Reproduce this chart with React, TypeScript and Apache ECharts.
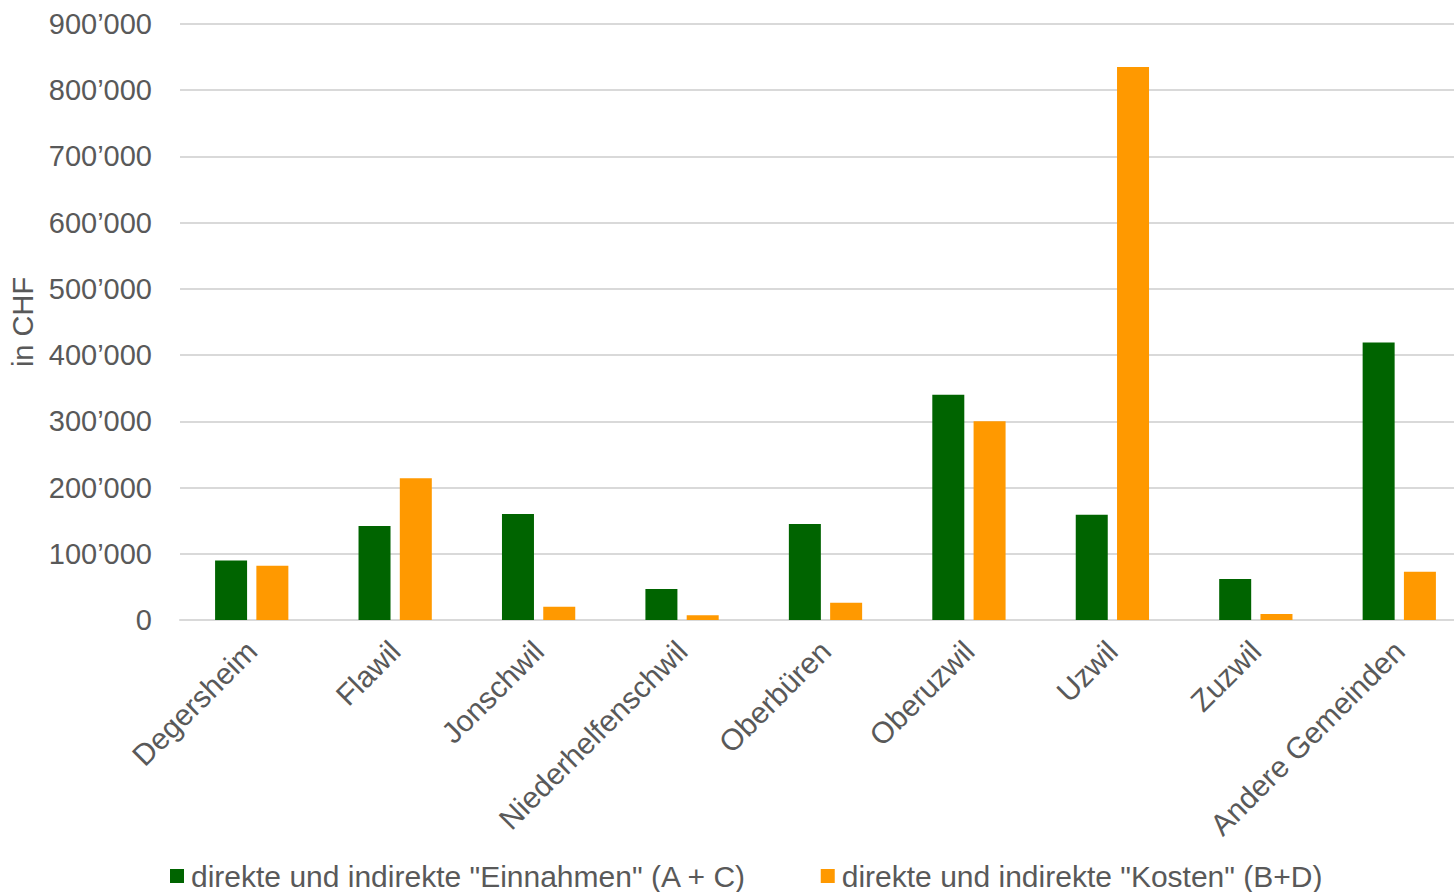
import React, { useEffect, useRef } from "react";
import * as echarts from "echarts";

const categories = [
  "Degersheim",
  "Flawil",
  "Jonschwil",
  "Niederhelfenschwil",
  "Oberbüren",
  "Oberuzwil",
  "Uzwil",
  "Zuzwil",
  "Andere Gemeinden",
];
const einnahmen = [90000, 142000, 160000, 47000, 145000, 340000, 159000, 62000, 419000];
const kosten = [82000, 214000, 20000, 7000, 26000, 300000, 835000, 9000, 73000];
const seriesNames = [
  'direkte und indirekte "Einnahmen" (A + C)',
  'direkte und indirekte "Kosten" (B+D)',
];
const yMin = 0;
const yMax = 900000;
const yStep = 100000;

const FONT = "'Liberation Sans', Arial, sans-serif";
const TXT = "#595959";

function fmt(v: number): string {
  return String(Math.round(v)).replace(/\B(?=(\d{3})+(?!\d))/g, "\u2019");
}

export default function App() {
  const ref = useRef<HTMLDivElement>(null);
  useEffect(() => {
    if (!ref.current) return;
    const chart = echarts.init(ref.current, null, { renderer: "svg" });
    chart.setOption({
      animation: false,
      backgroundColor: "#ffffff",
      textStyle: { fontFamily: FONT },
      grid: {
        left: 180,
        right: -17,
        top: 24,
        bottom: 272,
        containLabel: false,
        outerBoundsMode: "none",
      },
      legend: {
        left: 170,
        top: 861,
        padding: 0,
        itemWidth: 14,
        itemHeight: 14,
        itemGap: 74,
        icon: "rect",
        textStyle: {
          color: TXT,
          fontSize: 30,
          lineHeight: 28,
          fontFamily: FONT,
          padding: [0, 0, 0, 2],
        },
        data: seriesNames,
      },
      xAxis: {
        type: "category",
        data: categories,
        axisLine: { show: true, lineStyle: { color: "#d9d9d9", width: 2 } },
        axisTick: { show: false },
        axisLabel: {
          interval: 0,
          rotate: 45,
          margin: 26,
          color: TXT,
          fontSize: 30,
          fontFamily: FONT,
        },
      },
      yAxis: {
        type: "value",
        min: yMin,
        max: yMax,
        interval: yStep,
        name: "in CHF",
        nameLocation: "middle",
        nameRotate: 90,
        nameGap: 142,
        nameTextStyle: { color: TXT, fontSize: 29, fontFamily: FONT },
        axisLine: { show: false },
        axisTick: { show: false },
        splitLine: { lineStyle: { color: "#d9d9d9", width: 2 } },
        axisLabel: {
          color: TXT,
          fontSize: 29,
          fontFamily: FONT,
          margin: 28,
          formatter: (v: number) => fmt(v),
        },
      },
      series: [
        {
          name: seriesNames[0],
          type: "bar",
          data: einnahmen,
          barWidth: 32,
          barGap: "29%",
          itemStyle: { color: "#006400" },
        },
        {
          name: seriesNames[1],
          type: "bar",
          data: kosten,
          barWidth: 32,
          itemStyle: { color: "#ff9900" },
        },
      ],
    });
    return () => chart.dispose();
  }, []);
  return (
    <div
      ref={ref}
      style={{ position: "fixed", left: 0, top: 0, width: 1454, height: 892 }}
    />
  );
}
